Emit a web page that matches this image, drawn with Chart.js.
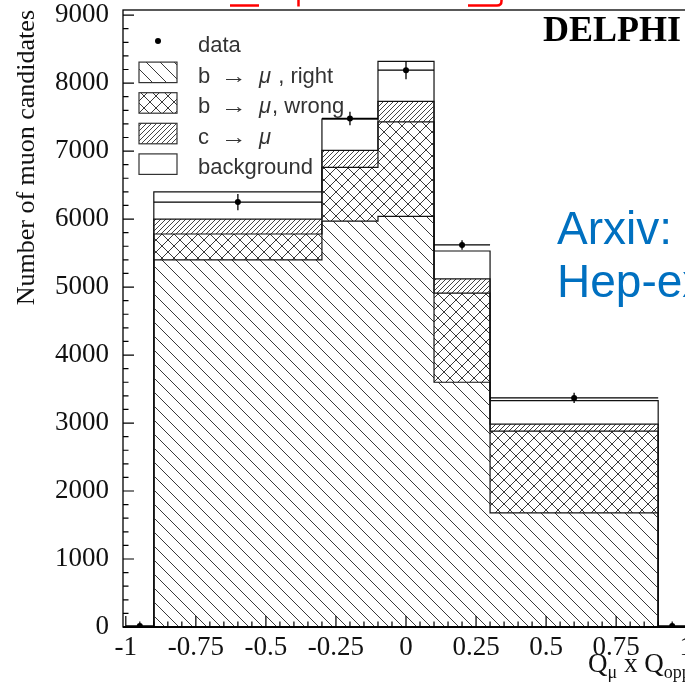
<!DOCTYPE html>
<html>
<head>
<meta charset="utf-8">
<script src="https://cdn.jsdelivr.net/npm/chart.js@4.4.0/dist/chart.umd.min.js"></script>
<style>
html, body { margin: 0; padding: 0; background: #fff; overflow: hidden; }
#wrap { width: 685px; height: 694px; overflow: hidden; }
canvas { display: block; }
</style>
</head>
<body>
<div id="wrap"><canvas id="chart" width="760" height="694"></canvas></div>
<script>
"use strict";

// histogram bins (Q_mu x Q_opp) and stacked components
const binEdges = [-0.9, -0.3, -0.1, 0.1, 0.3, 0.9];
const bRight = [5400, 5970, 6040, 3600, 1680];
const bWrong = [380, 790, 1390, 1310, 1200];
const cMu = [220, 250, 300, 210, 105];
const background = [400, 460, 590, 410, 345];

// data points with errors
const dataX = [-0.95, -0.6, -0.2, 0, 0.2, 0.6, 0.95];
const dataHalfWidth = [0.05, 0.3, 0.1, 0.1, 0.1, 0.3, 0.05];
const dataY = [15, 6250, 7480, 8190, 5620, 3370, 15];
const dataErr = [15, 120, 100, 135, 70, 75, 15];

const xTickValues = [-1, -0.75, -0.5, -0.25, 0, 0.25, 0.5, 0.75, 1];
const xTickLabels = ['-1', '-0.75', '-0.5', '-0.25', '0', '0.25', '0.5', '0.75', '1'];
const yTickValues = [0, 1000, 2000, 3000, 4000, 5000, 6000, 7000, 8000, 9000];
const yTickLabels = ['0', '1000', '2000', '3000', '4000', '5000', '6000', '7000', '8000', '9000'];

const legendLabels = ['data', 'b \u2192 \u03bc , right', 'b \u2192 \u03bc, wrong', 'c \u2192 \u03bc', 'background'];

const SERIF = '"Liberation Serif", "Times New Roman", serif';
const SANS = '"Liberation Sans", Arial, sans-serif';


const canvas = document.getElementById('chart');
const ctx = canvas.getContext('2d');

function hatchPattern(step, dirs, color) {
    const tile = document.createElement('canvas');
    tile.width = step;
    tile.height = step;
    const g = tile.getContext('2d');
    g.strokeStyle = color;
    g.lineWidth = 1;
    g.beginPath();
    for (const d of dirs) {
        for (let k = -1; k <= 1; k++) {
            const o = k * step;
            if (d === '/') { g.moveTo(o, step); g.lineTo(o + step, 0); }
            else { g.moveTo(o, 0); g.lineTo(o + step, step); }
        }
    }
    g.stroke();
    return ctx.createPattern(tile, 'repeat');
}

const patRight = hatchPattern(14, ['\\'], '#3a3a3a');
const patWrong = hatchPattern(12, ['/', '\\'], '#3a3a3a');
const patC = hatchPattern(5, ['/'], '#444');
const fills = [patRight, patWrong, patC, '#ffffff'];

function cumulate(...parts) {
    return parts[0].map((_, i) => parts.reduce((s, p) => s + p[i], 0));
}

function stepPoints(tops) {
    const last = binEdges.length - 1;
    const pts = [{ x: binEdges[0], y: 0 }];
    tops.forEach((v, i) => pts.push({ x: binEdges[i], y: v }));
    pts.push({ x: binEdges[last], y: tops[tops.length - 1] });
    pts.push({ x: binEdges[last], y: 0 });
    return pts;
}

const tops = [
    bRight,
    cumulate(bRight, bWrong),
    cumulate(bRight, bWrong, cMu),
    cumulate(bRight, bWrong, cMu, background)
];

const errPts = [];
dataX.forEach((x, i) => {
    errPts.push({ x: x - dataHalfWidth[i], y: dataY[i] }, { x: x + dataHalfWidth[i], y: dataY[i] }, { x: x, y: null });
    errPts.push({ x: x, y: dataY[i] - dataErr[i] }, { x: x, y: dataY[i] + dataErr[i] }, { x: x, y: null });
});

const histSets = tops.map((t, i) => ({
    label: legendLabels[i + 1],
    data: stepPoints(t),
    stepped: true,
    borderColor: '#111',
    borderWidth: 1.2,
    pointRadius: 0,
    backgroundColor: fills[i],
    fill: i === 0 ? 'origin' : '-1',
    order: 2
}));


const decor = {
    id: 'decor',
    afterDraw(chart) {
        const { ctx, chartArea: a, scales: { x, y } } = chart;
        ctx.save();

        // frame
        ctx.strokeStyle = '#000';
        ctx.lineWidth = 1.3;
        ctx.strokeRect(a.left, a.top, a.right - a.left, a.bottom - a.top);
        ctx.lineWidth = 2;
        ctx.beginPath();
        ctx.moveTo(a.left, a.bottom);
        ctx.lineTo(a.right, a.bottom);
        ctx.stroke();

        // inward ticks
        ctx.lineWidth = 1.2;
        ctx.beginPath();
        for (let v = 0; v <= 9000; v += 200) {
            const py = y.getPixelForValue(v);
            const len = v % 1000 === 0 ? 11 : 5.5;
            ctx.moveTo(a.left, py);
            ctx.lineTo(a.left + len, py);
        }
        for (let k = -20; k <= 20; k++) {
            const px = x.getPixelForValue(k * 0.05);
            const len = k % 5 === 0 ? 11 : 5.5;
            ctx.moveTo(px, a.bottom);
            ctx.lineTo(px, a.bottom - len);
        }
        ctx.stroke();

        // legend
        ctx.textAlign = 'left';
        ctx.textBaseline = 'alphabetic';
        legendLabels.forEach((label, i) => {
            const base = 52 + i * 30.6;
            if (i === 0) {
                ctx.fillStyle = '#000';
                ctx.beginPath();
                ctx.arc(158, base - 11, 3, 0, Math.PI * 2);
                ctx.fill();
            } else {
                ctx.fillStyle = fills[i - 1];
                ctx.fillRect(139, base - 20.5, 38, 20.5);
                ctx.strokeStyle = '#333';
                ctx.lineWidth = 1.2;
                ctx.strokeRect(139, base - 20.5, 38, 20.5);
            }
            ctx.fillStyle = '#333';
            ctx.font = '22px ' + SANS;
            const parts = label.split('\u03bc');
            if (parts.length === 1) {
                ctx.fillText(label, 198, base);
                return;
            }
            const pre = parts[0].split('\u2192');
            ctx.fillText(pre[0].trim(), 198, base);
            const aw = ctx.measureText('\u2192').width;
            ctx.save();
            ctx.translate(221, base);
            ctx.scale(26 / aw, 1);
            ctx.fillText('\u2192', 0, 0);
            ctx.restore();
            ctx.font = 'italic 22px ' + SANS;
            ctx.fillText('\u03bc', 259, base);
            const mw = ctx.measureText('\u03bc').width;
            ctx.font = '22px ' + SANS;
            ctx.fillText(parts[1], 259 + mw + 1, base);
        });

        // experiment label
        ctx.fillStyle = '#000';
        ctx.font = 'bold 36px ' + SERIF;
        ctx.fillText('DELPHI', 543, 41);

        // x axis title with subscripts
        ctx.fillStyle = '#111';
        let tx = 588;
        const tb = 672;
        ctx.font = '27px ' + SERIF;
        ctx.fillText('Q', tx, tb);
        tx += ctx.measureText('Q').width;
        ctx.font = '18px ' + SERIF;
        ctx.fillText('\u03bc', tx, tb + 6);
        tx += ctx.measureText('\u03bc').width;
        ctx.font = '27px ' + SERIF;
        ctx.fillText(' x Q', tx, tb);
        tx += ctx.measureText(' x Q').width;
        ctx.font = '18px ' + SERIF;
        ctx.fillText('opp', tx, tb + 6);

        // slide overlay text
        ctx.fillStyle = '#0070C0';
        ctx.font = '46px ' + SANS;
        ctx.fillText('Arxiv:', 557, 244);
        ctx.fillText('Hep-ex/', 557, 297);

        // bottoms of red slide title glyphs
        ctx.strokeStyle = '#ff0000';
        ctx.lineWidth = 2.5;
        ctx.beginPath();
        ctx.moveTo(230, 5.5); ctx.lineTo(259, 5.5);
        ctx.moveTo(298.5, 0); ctx.lineTo(298.5, 6.5);
        ctx.moveTo(468, 5.5); ctx.lineTo(497, 5.5);
        ctx.quadraticCurveTo(501.5, 5.5, 501.5, 1); ctx.lineTo(501.5, 0);
        ctx.stroke();

        ctx.restore();
    }
};


const chart = new Chart(ctx, {
    type: 'line',
    data: {
        datasets: [
            ...histSets,
            {
                label: 'data',
                data: errPts,
                borderColor: '#000',
                borderWidth: 1.3,
                pointRadius: 0,
                fill: false,
                spanGaps: false,
                order: 0
            },
            {
                label: 'data points',
                data: dataX.map((x, i) => ({ x: x, y: dataY[i] })),
                showLine: false,
                pointRadius: 3,
                pointBackgroundColor: '#000',
                pointBorderWidth: 0,
                order: 0
            }
        ]
    },
    options: {
        responsive: false,
        animation: false,
        events: [],
        layout: { padding: { left: 0, top: 10, right: 71, bottom: 0 } },
        plugins: {
            legend: { display: false },
            tooltip: { enabled: false }
        },
        scales: {
            x: {
                type: 'linear',
                min: -1.01,
                max: 1.01,
                afterFit: (s) => {
                    s.height = 67;
                    s.paddingLeft = 0;
                    s.paddingRight = 0;
                },
                afterBuildTicks: (s) => { s.ticks = xTickValues.map(v => ({ value: v })); },
                grid: { display: false, drawTicks: false },
                border: { display: false },
                ticks: {
                    autoSkip: false,
                    maxRotation: 0,
                    padding: 5,
                    color: '#111',
                    font: { family: SERIF, size: 27 },
                    callback: (v, i) => xTickLabels[i]
                }
            },
            y: {
                min: 0,
                max: 9075,
                afterFit: (s) => {
                    s.width = 123;
                    s.paddingTop = 0;
                    s.paddingBottom = 0;
                },
                afterBuildTicks: (s) => { s.ticks = yTickValues.map(v => ({ value: v })); },
                grid: { display: false, drawTicks: false },
                border: { display: false },
                ticks: {
                    padding: 14,
                    color: '#111',
                    font: { family: SERIF, size: 27 },
                    callback: (v, i) => yTickLabels[i]
                },
                title: {
                    display: true,
                    text: 'Number of muon candidates',
                    align: 'end',
                    color: '#111',
                    font: { family: SERIF, size: 26 },
                    padding: { top: 12, bottom: 0 }
                }
            }
        }
    },
    plugins: [decor]
});
</script>
</body>
</html>
